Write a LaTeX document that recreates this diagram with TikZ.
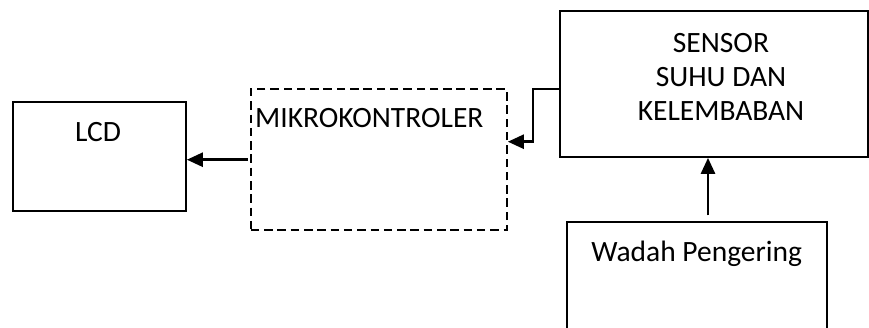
\documentclass[tikz,border=0pt]{standalone}
\usepackage{fontspec}
\setmainfont{Carlito}
\usetikzlibrary{arrows.meta}
\begin{document}
\begin{tikzpicture}[x=1pt,y=-1pt,
  box/.style={draw, line width=2.1pt, inner sep=0pt},
  dashbox/.style={box, dash pattern=on 8.5pt off 4.8pt},
  lbl/.style={inner sep=0pt, font=\fontsize{29.5}{34}\selectfont},
  arr/.style={line width=2.6pt, -{Triangle[length=16pt,width=14pt]}}]
\clip (0,0) rectangle (869,327);
\fill[white] (0,0) rectangle (869,327);
% blocks
\node[box, minimum width=173pt, minimum height=109pt] (lcd) at (99.3,156.3) {};
\node[dashbox, minimum width=256pt, minimum height=141pt] (mikro) at (378.8,159.7) {};
\node[box, minimum width=308pt, minimum height=146pt] (sensor) at (714,83.8) {};
\node[box, minimum width=260pt, minimum height=150pt] (wadah) at (696.7,297.3) {};
% texts
\node[lbl, anchor=base] (tlcd) at (98,141.3) {LCD};
\node[lbl, anchor=base west] (tmikro) at (255,127.3) {MIKROKONTROLER};
\node[lbl, align=center] (tsensor) at (721,77) {SENSOR\\SUHU DAN\\KELEMBABAN};
\node[lbl, anchor=base] (twadah) at (696.7,261) {Wadah Pengering};
% connectors
\coordinate (kink) at (533,141.7);
\draw[arr] ([xshift=-2pt]mikro.west) -- (mikro.west -| lcd.east);
\draw[arr] ([yshift=-5pt]sensor.west) -| (kink) -- (kink -| mikro.east);
\draw[arr, shorten <=6pt] ([xshift=11.3pt]wadah.north) -- ([xshift=11.3pt]wadah.north |- sensor.south);
\end{tikzpicture}
\end{document}
